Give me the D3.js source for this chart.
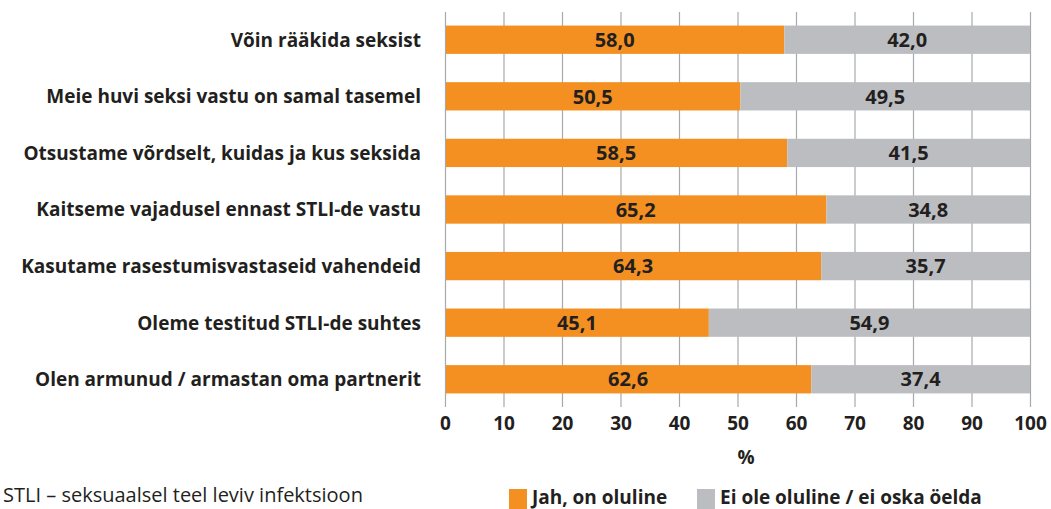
<!DOCTYPE html>
<html>
<head>
<meta charset="utf-8">
<script src="https://cdn.jsdelivr.net/npm/d3@7"></script>
<style>
  body { margin: 0; background: #fff; }
  svg { display: block; font-family: "Open Sans", "Noto Sans", sans-serif; }
</style>
</head>
<body>
<div id="chart"></div>
<script>
// Statements and shares (%)
const categories = [
    "Võin rääkida seksist",
    "Meie huvi seksi vastu on samal tasemel",
    "Otsustame võrdselt, kuidas ja kus seksida",
    "Kaitseme vajadusel ennast STLI-de vastu",
    "Kasutame rasestumisvastaseid vahendeid",
    "Oleme testitud STLI-de suhtes",
    "Olen armunud / armastan oma partnerit"
];
const yesValues = [58.0, 50.5, 58.5, 65.2, 64.3, 45.1, 62.6];
const noValues = [42.0, 49.5, 41.5, 34.8, 35.7, 54.9, 37.4];
const seriesNames = ["Jah, on oluline", "Ei ole oluline / ei oska öelda"];
const seriesColors = ["#f39021", "#bcbdc0"];
const tickValues = [0, 10, 20, 30, 40, 50, 60, 70, 80, 90, 100];

const width = 1051;
const height = 509;
const margin = { top: 12, right: 21, bottom: 102, left: 445 };
const textColor = "#231f20";

const svg = d3.select("#chart")
    .append("svg")
    .attr("width", width)
    .attr("height", height);

const x = d3.scaleLinear()
    .domain([0, 100])
    .range([margin.left, width - margin.right]);

const y = d3.scaleBand()
    .domain(categories)
    .range([margin.top, height - margin.bottom])
    .paddingInner(0.5)
    .paddingOuter(0.24);

const fmt = v => v.toFixed(1).replace(".", ",");

// gridlines
svg.append("g")
    .selectAll("line")
    .data(tickValues)
    .join("line")
    .attr("x1", d => x(d) + 0.5)
    .attr("x2", d => x(d) + 0.5)
    .attr("y1", margin.top)
    .attr("y2", height - margin.bottom)
    .attr("stroke", "#a7a9ac")
    .attr("stroke-width", 1.2);

const rows = categories.map((c, i) => ({ cat: c, yes: yesValues[i], no: noValues[i] }));

// bars
const row = svg.append("g")
    .selectAll("g")
    .data(rows)
    .join("g");

row.append("rect")
    .attr("x", x(0) + 1)
    .attr("y", d => y(d.cat))
    .attr("width", d => x(d.yes) - x(0) - 1)
    .attr("height", y.bandwidth())
    .attr("fill", seriesColors[0]);

row.append("rect")
    .attr("x", d => x(d.yes))
    .attr("y", d => y(d.cat))
    .attr("width", d => x(d.yes + d.no) - x(d.yes))
    .attr("height", y.bandwidth())
    .attr("fill", seriesColors[1]);

row.append("text")
    .attr("x", d => x(d.yes / 2))
    .attr("y", d => y(d.cat) + y.bandwidth() / 2)
    .attr("dy", "0.36em")
    .attr("text-anchor", "middle")
    .attr("font-size", 20)
    .attr("font-weight", "bold")
    .attr("fill", textColor)
    .text(d => fmt(d.yes));

row.append("text")
    .attr("x", d => x(d.yes + d.no / 2))
    .attr("y", d => y(d.cat) + y.bandwidth() / 2)
    .attr("dy", "0.36em")
    .attr("text-anchor", "middle")
    .attr("font-size", 20)
    .attr("font-weight", "bold")
    .attr("fill", textColor)
    .text(d => fmt(d.no));

// category labels
row.append("text")
    .attr("x", 421)
    .attr("y", d => y(d.cat) + y.bandwidth() / 2)
    .attr("dy", "0.36em")
    .attr("text-anchor", "end")
    .attr("font-size", 19)
    .attr("font-weight", "bold")
    .attr("fill", textColor)
    .text(d => d.cat);

// x axis labels
const xAxis = svg.append("g")
    .attr("transform", `translate(0,${height - margin.bottom})`)
    .call(d3.axisBottom(x).tickValues(tickValues).tickSize(0).tickPadding(10));
xAxis.select(".domain").remove();
xAxis.selectAll("text")
    .attr("font-family", "\"Open Sans\", \"Noto Sans\", sans-serif")
    .attr("font-size", 19)
    .attr("font-weight", "bold")
    .attr("fill", textColor);

svg.append("text")
    .attr("x", 746)
    .attr("y", 464)
    .attr("text-anchor", "middle")
    .attr("font-size", 19)
    .attr("font-weight", "bold")
    .attr("fill", textColor)
    .text("%");

// legend
const legendX = [509, 697];
const legend = svg.append("g")
    .selectAll("g")
    .data(seriesNames)
    .join("g")
    .attr("transform", (d, i) => `translate(${legendX[i]},489)`);

legend.append("rect")
    .attr("width", 18)
    .attr("height", 20)
    .attr("fill", (d, i) => seriesColors[i]);

legend.append("text")
    .attr("x", 23)
    .attr("y", 15)
    .attr("font-size", 19)
    .attr("font-weight", "bold")
    .attr("fill", textColor)
    .text(d => d);

// footnote
svg.append("text")
    .attr("x", 3)
    .attr("y", 502)
    .attr("font-size", 20)
    .attr("fill", textColor)
    .text("STLI – seksuaalsel teel leviv infektsioon");
</script>
</body>
</html>
